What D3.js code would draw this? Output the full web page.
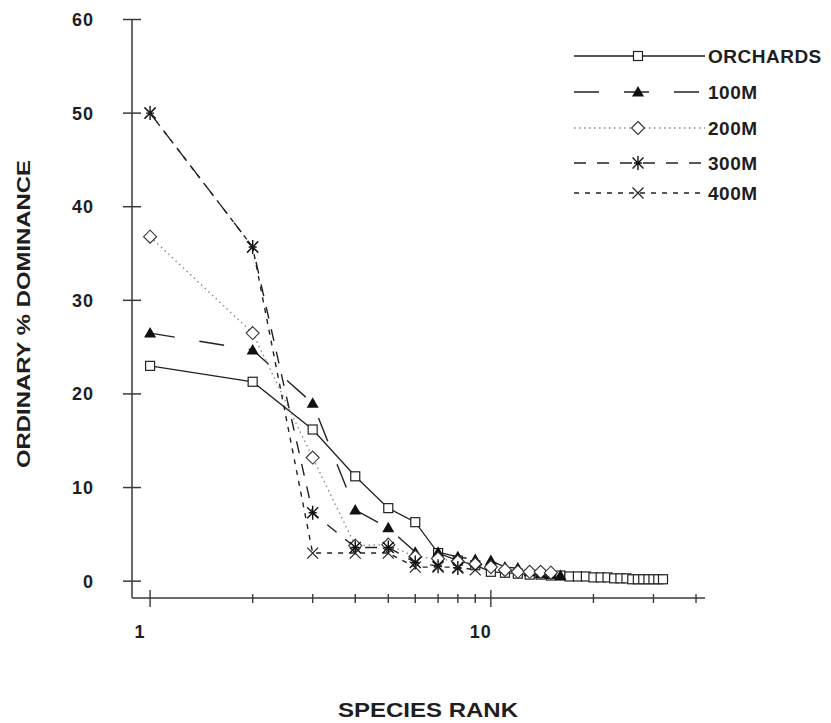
<!DOCTYPE html>
<html>
<head>
<meta charset="utf-8">
<script src="https://cdn.jsdelivr.net/npm/d3@7"></script>
<style>
  html, body { margin: 0; padding: 0; background: #fff; }
  svg { display: block; }
  text { font-family: "Liberation Sans", Arial, sans-serif; font-weight: bold; fill: #1e1e1e; }
</style>
</head>
<body>
<svg id="chart" width="831" height="723"></svg>
<script>
// Species rank-abundance curves: ordinary % dominance by species rank
const seriesNames = ["ORCHARDS", "100M", "200M", "300M", "400M"];

const orchards = [23.0, 21.3, 16.2, 11.2, 7.8, 6.3, 3.0, 2.2, 1.7, 1.0, 0.9, 0.8, 0.7, 0.7, 0.6, 0.6,
                  0.5, 0.5, 0.5, 0.4, 0.4, 0.4, 0.3, 0.3, 0.3, 0.2, 0.2, 0.2, 0.2, 0.2, 0.2, 0.2];
const m100 = [26.5, 24.7, 19.0, 7.6, 5.7, 3.1, 3.1, 2.6, 2.3, 2.2, 1.5, 1.4, 1.0, 0.8, 0.7, 0.6];
const m200 = [36.8, 26.5, 13.2, 3.8, 3.9, 2.6, 2.4, 2.1, 1.8, 1.5, 1.2, 1.0, 1.0, 1.0, 0.9];
const m300 = [50.0, 35.7, 7.3, 3.6, 3.6, 2.0, 1.6, 1.4];
const m400 = [50.0, 35.7, 3.0, 3.0, 3.0, 1.5, 1.5, 1.5, 1.2];

const yTicks = [0, 10, 20, 30, 40, 50, 60];
const xTicks = [1, 2, 3, 4, 5, 6, 7, 8, 9, 10, 20, 30, 40];
const xLabels = [1, 10];

const svg = d3.select("#chart");

const x = d3.scaleLog().domain([0.885, 42.5]).range([132, 705]);
const y = d3.scaleLinear().domain([-1.8, 60]).range([598, 19.5]);

const axisColor = "#3a3a3a";

// Axis lines
svg.append("line").attr("x1", x.range()[0]).attr("x2", x.range()[0])
  .attr("y1", y(60)).attr("y2", y.range()[0])
  .attr("stroke", axisColor).attr("stroke-width", 1.5);
svg.append("line").attr("x1", x.range()[0]).attr("x2", x.range()[1])
  .attr("y1", y.range()[0]).attr("y2", y.range()[0])
  .attr("stroke", axisColor).attr("stroke-width", 1.5);

// Y ticks cross the axis
const yAxisX = x.range()[0];
svg.append("g").selectAll("line").data(yTicks).join("line")
  .attr("x1", yAxisX - 9).attr("x2", yAxisX + 9)
  .attr("y1", d => y(d)).attr("y2", d => y(d))
  .attr("stroke", axisColor).attr("stroke-width", 1.5);
svg.append("g").selectAll("text").data(yTicks).join("text")
  .attr("x", 94).attr("y", d => y(d)).attr("dy", "0.36em")
  .attr("text-anchor", "end").attr("font-size", 18).attr("letter-spacing", 1)
  .text(d => d);

// X ticks: long at decades, short elsewhere
const xAxisY = y.range()[0];
svg.append("g").selectAll("line").data(xTicks).join("line")
  .attr("x1", d => x(d)).attr("x2", d => x(d))
  .attr("y1", d => xLabels.includes(d) ? xAxisY - 8 : xAxisY - 4)
  .attr("y2", d => xLabels.includes(d) ? xAxisY + 9 : xAxisY + 5)
  .attr("stroke", axisColor).attr("stroke-width", 1.4);
svg.append("g").selectAll("text").data(xLabels).join("text")
  .attr("x", d => x(d) - 10).attr("y", 638)
  .attr("text-anchor", "middle").attr("font-size", 18).attr("letter-spacing", 1)
  .text(d => d);

// Axis titles
svg.append("text").attr("x", 428).attr("y", 717).attr("text-anchor", "middle")
  .attr("font-size", 20).attr("textLength", 180).attr("lengthAdjust", "spacingAndGlyphs")
  .text("SPECIES RANK");
svg.append("text").attr("transform", "translate(30,314) rotate(-90)")
  .attr("text-anchor", "middle").attr("font-size", 19)
  .attr("textLength", 308).attr("lengthAdjust", "spacingAndGlyphs")
  .text("ORDINARY % DOMINANCE");

// Marker shapes
const markers = {
  square: g => g.append("rect").attr("x", -4.5).attr("y", -4.5).attr("width", 9).attr("height", 9)
    .attr("fill", "#fff").attr("stroke", "#222").attr("stroke-width", 1.2),
  triangle: g => g.append("path").attr("d", "M0,-6L6,4.5L-6,4.5Z").attr("fill", "#111"),
  diamond: g => g.append("path").attr("d", "M0,-6.5L6.5,0L0,6.5L-6.5,0Z")
    .attr("fill", "#fff").attr("stroke", "#333").attr("stroke-width", 1.1),
  star: g => g.append("path").attr("d", "M0,-7L0,7M-5.5,-5.5L5.5,5.5M-5.5,5.5L5.5,-5.5M-4,0L4,0")
    .attr("stroke", "#111").attr("stroke-width", 1.4).attr("fill", "none"),
  cross: g => g.append("path").attr("d", "M-5.5,-5.5L5.5,5.5M-5.5,5.5L5.5,-5.5")
    .attr("stroke", "#222").attr("stroke-width", 1.2).attr("fill", "none")
};

const series = [
  { name: seriesNames[0], values: orchards, dash: null, color: "#222", width: 1.3, marker: "square" },
  { name: seriesNames[1], values: m100, dash: "25,25", color: "#222", width: 1.4, marker: "triangle" },
  { name: seriesNames[2], values: m200, dash: "1.5,3.5", color: "#8a8a8a", width: 1.4, marker: "diamond" },
  { name: seriesNames[3], values: m300, dash: "12,11", color: "#222", width: 1.4, marker: "star" },
  { name: seriesNames[4], values: m400, dash: "5,6", color: "#222", width: 1.4, marker: "cross" }
];

const line = d3.line().x((d, i) => x(i + 1)).y(d => y(d));

series.forEach(s => {
  svg.append("path").datum(s.values).attr("d", line)
    .attr("fill", "none").attr("stroke", s.color).attr("stroke-width", s.width)
    .attr("stroke-dasharray", s.dash);
});
series.forEach(s => {
  svg.append("g").selectAll("g").data(s.values).join("g")
    .attr("transform", (d, i) => `translate(${x(i + 1)},${y(d)})`)
    .each(function () { markers[s.marker](d3.select(this)); });
});

// Legend
const legendRows = [56, 92, 128, 163, 193];
series.forEach((s, i) => {
  const g = svg.append("g").attr("transform", `translate(0,${legendRows[i]})`);
  g.append("line").attr("x1", 574).attr("x2", 705).attr("y1", 0).attr("y2", 0)
    .attr("stroke", s.color).attr("stroke-width", s.width).attr("stroke-dasharray", s.dash);
  const m = g.append("g").attr("transform", "translate(638,0)");
  markers[s.marker](m);
  g.append("text").attr("x", 708).attr("y", 0).attr("dy", "0.36em").attr("font-size", 19)
    .attr("letter-spacing", 0.5)
    .text(s.name);
});
</script>
</body>
</html>
